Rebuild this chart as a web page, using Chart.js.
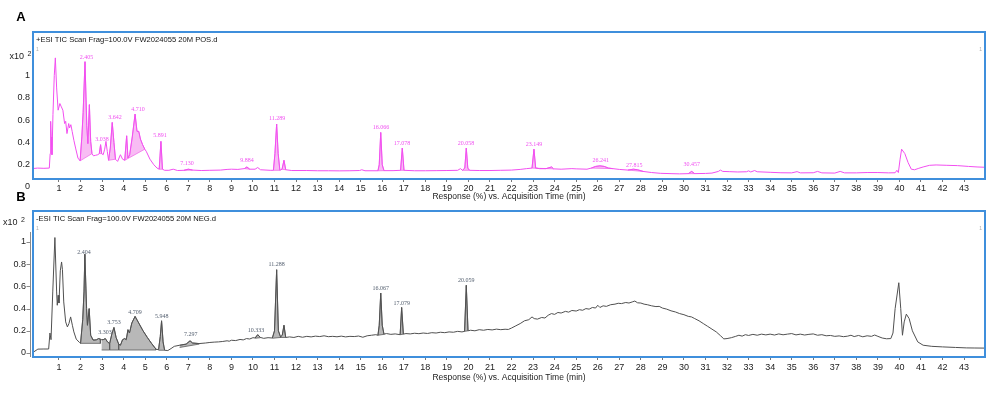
<!DOCTYPE html>
<html><head><meta charset="utf-8">
<script src="https://cdn.jsdelivr.net/npm/chart.js@4.4.1/dist/chart.umd.min.js"></script>
<style>
html,body{margin:0;padding:0;background:#fff;}
body{width:999px;height:395px;position:relative;overflow:hidden;}
canvas{position:absolute;left:0;}
#ca{top:0;}
#cb{top:188px;}
</style></head><body>
<canvas id="ca" width="999" height="205"></canvas>
<canvas id="cb" width="999" height="207"></canvas>
<script>
// ---------- DATA ----------
const xTickValues = [1,2,3,4,5,6,7,8,9,10,11,12,13,14,15,16,17,18,19,20,21,22,23,24,25,26,27,28,29,30,31,32,33,34,35,36,37,38,39,40,41,42,43];
const xTickLabels = ['1','2','3','4','5','6','7','8','9','10','11','12','13','14','15','16','17','18','19','20','21','22','23','24','25','26','27','28','29','30','31','32','33','34','35','36','37','38','39','40','41','42','43'];
const yTickValues = [0,0.2,0.4,0.6,0.8,1];
const yTickLabels = ['0','0.2','0.4','0.6','0.8','1'];

// Panel A: +ESI TIC (time min, response x10^2)
const posTrace = [[-0.25,0.165],[0.0,0.17],[0.3,0.168],[0.55,0.17],[0.59,0.3],[0.613,0.59],[0.64,0.45],[0.675,0.29],[0.72,0.65],[0.78,1.0],[0.83,1.16],[0.89,0.89],[0.96,0.69],[1.04,0.75],[1.11,0.72],[1.18,0.69],[1.26,0.57],[1.31,0.59],[1.37,0.48],[1.45,0.57],[1.49,0.53],[1.55,0.56],[1.61,0.5],[1.69,0.42],[1.77,0.35],[1.88,0.26],[1.98,0.235],[2.06,0.45],[2.12,0.67],[2.207,1.126],[2.29,0.55],[2.34,0.39],[2.41,0.74],[2.47,0.41],[2.53,0.30],[2.6,0.28],[2.7,0.285],[2.8,0.29],[2.87,0.3],[2.93,0.38],[2.98,0.3],[3.05,0.29],[3.12,0.34],[3.18,0.41],[3.24,0.32],[3.3,0.24],[3.38,0.35],[3.47,0.58],[3.55,0.4],[3.62,0.25],[3.72,0.23],[3.85,0.29],[3.95,0.25],[4.05,0.24],[4.14,0.46],[4.2,0.26],[4.28,0.29],[4.4,0.45],[4.53,0.655],[4.62,0.5],[4.7,0.5],[4.78,0.43],[4.88,0.38],[4.98,0.34],[5.05,0.32],[5.22,0.25],[5.4,0.2],[5.55,0.17],[5.65,0.16],[5.73,0.41],[5.8,0.16],[5.9,0.15],[6.1,0.15],[6.3,0.16],[6.5,0.148],[6.8,0.15],[7.0,0.16],[7.2,0.152],[7.6,0.148],[8.0,0.15],[8.5,0.152],[8.8,0.158],[9.0,0.16],[9.3,0.158],[9.6,0.165],[9.72,0.18],[9.85,0.16],[10.1,0.16],[10.22,0.175],[10.35,0.155],[10.8,0.15],[10.95,0.15],[11.02,0.3],[11.1,0.566],[11.17,0.3],[11.25,0.15],[11.35,0.16],[11.44,0.24],[11.52,0.155],[11.8,0.148],[12.5,0.148],[13.0,0.146],[13.5,0.146],[14.0,0.145],[14.5,0.146],[14.95,0.148],[15.05,0.155],[15.2,0.146],[15.8,0.146],[15.86,0.2],[15.93,0.49],[16.0,0.2],[16.08,0.147],[16.5,0.147],[16.85,0.15],[16.93,0.35],[17.01,0.15],[17.5,0.146],[18.0,0.146],[18.5,0.147],[19.0,0.148],[19.5,0.15],[19.63,0.165],[19.72,0.15],[19.83,0.17],[19.9,0.35],[19.97,0.17],[20.05,0.15],[20.5,0.148],[21.0,0.148],[21.5,0.15],[22.0,0.152],[22.4,0.158],[22.7,0.165],[22.95,0.17],[23.04,0.34],[23.12,0.17],[23.3,0.165],[23.6,0.165],[23.86,0.18],[23.95,0.163],[24.3,0.16],[24.8,0.165],[25.0,0.163],[25.5,0.16],[25.7,0.17],[25.9,0.185],[26.1,0.19],[26.3,0.185],[26.5,0.17],[26.7,0.165],[27.0,0.158],[27.4,0.152],[27.65,0.16],[27.85,0.155],[28.1,0.14],[28.5,0.13],[28.9,0.123],[29.4,0.12],[29.8,0.118],[30.2,0.12],[30.36,0.14],[30.5,0.12],[31.0,0.122],[31.3,0.125],[31.6,0.14],[31.69,0.152],[31.8,0.14],[32.1,0.138],[32.5,0.135],[32.9,0.137],[33.0,0.145],[33.1,0.135],[33.28,0.148],[33.4,0.137],[34.0,0.132],[34.5,0.128],[35.0,0.127],[35.25,0.138],[35.4,0.127],[36.0,0.128],[36.2,0.14],[36.4,0.127],[37.0,0.125],[37.25,0.14],[37.45,0.127],[38.0,0.127],[38.5,0.13],[39.0,0.13],[39.5,0.127],[39.8,0.128],[39.88,0.15],[39.95,0.13],[40.03,0.25],[40.1,0.34],[40.25,0.3],[40.4,0.22],[40.55,0.16],[40.7,0.155],[40.9,0.168],[41.1,0.18],[41.4,0.195],[41.7,0.198],[42.2,0.195],[42.7,0.192],[43.2,0.185],[43.6,0.18],[44.0,0.177]];
const posFillStart = [1.98,2.87,3.3,4.05,5.65,6.8,9.6,10.95,11.35,15.8,16.85,19.72,22.95,25.7,27.4,30.2];
const posFillEnd   = [2.53,2.98,3.62,4.98,5.8,7.2,9.85,11.25,11.52,16.08,17.01,20.05,23.95,26.7,28.1,30.5];
const posPeakText  = ['2.405','3.038','3.642','4.710','5.891','7.130','9.884','11.289','16.066','17.078','20.058','23.149','26.241','27.815','30.457'];
const posPeakTime  = [2.28,3.0,3.6,4.67,5.69,6.94,9.72,11.12,15.94,16.92,19.89,23.04,26.14,27.69,30.36];
const posPeakLevel = [1.163,0.431,0.629,0.70,0.467,0.216,0.236,0.62,0.539,0.395,0.395,0.386,0.236,0.191,0.207];

// Panel B: -ESI TIC
const negTrace = [[-0.25,0.0],[0.02,0.035],[0.3,0.036],[0.52,0.036],[0.58,0.18],[0.63,0.12],[0.71,0.55],[0.81,1.04],[0.89,0.55],[0.92,0.43],[0.96,0.52],[1.0,0.45],[1.06,0.74],[1.12,0.82],[1.16,0.75],[1.22,0.46],[1.31,0.28],[1.39,0.235],[1.46,0.265],[1.54,0.325],[1.62,0.25],[1.69,0.19],[1.8,0.125],[1.95,0.095],[2.0,0.087],[2.1,0.3],[2.16,0.55],[2.2,0.89],[2.28,0.40],[2.32,0.25],[2.4,0.40],[2.47,0.16],[2.58,0.117],[2.67,0.117],[2.75,0.12],[2.83,0.13],[2.92,0.125],[2.98,0.12],[3.05,0.12],[3.15,0.13],[3.25,0.1],[3.35,0.085],[3.45,0.17],[3.55,0.23],[3.65,0.14],[3.77,0.08],[3.85,0.07],[3.95,0.12],[4.05,0.13],[4.12,0.12],[4.2,0.21],[4.27,0.18],[4.38,0.27],[4.53,0.33],[4.7,0.27],[4.9,0.2],[5.1,0.14],[5.3,0.085],[5.5,0.035],[5.62,0.03],[5.7,0.15],[5.76,0.29],[5.83,0.1],[5.9,0.025],[6.05,0.022],[6.2,0.04],[6.35,0.06],[6.6,0.07],[6.9,0.08],[7.08,0.11],[7.2,0.09],[7.5,0.085],[7.8,0.09],[8.0,0.095],[8.2,0.098],[8.4,0.1],[8.6,0.104],[8.8,0.11],[8.9,0.106],[9.0,0.115],[9.2,0.112],[9.4,0.122],[9.55,0.118],[9.7,0.13],[9.85,0.126],[10.0,0.138],[10.1,0.135],[10.22,0.165],[10.35,0.14],[10.5,0.132],[10.7,0.138],[10.9,0.135],[11.0,0.2],[11.1,0.75],[11.18,0.2],[11.28,0.145],[11.36,0.16],[11.44,0.25],[11.52,0.14],[11.7,0.145],[11.9,0.14],[12.1,0.15],[12.3,0.142],[12.5,0.15],[12.7,0.145],[12.9,0.152],[13.1,0.148],[13.3,0.155],[13.5,0.147],[13.7,0.15],[13.9,0.146],[14.1,0.152],[14.3,0.145],[14.5,0.15],[14.7,0.148],[14.9,0.153],[15.1,0.142],[15.3,0.155],[15.5,0.16],[15.7,0.165],[15.8,0.16],[15.86,0.25],[15.93,0.54],[16.0,0.25],[16.08,0.17],[16.2,0.175],[16.4,0.168],[16.6,0.172],[16.83,0.165],[16.9,0.41],[16.98,0.17],[17.1,0.175],[17.3,0.172],[17.5,0.178],[17.7,0.174],[17.9,0.18],[18.1,0.176],[18.3,0.183],[18.5,0.18],[18.7,0.187],[18.9,0.183],[19.1,0.19],[19.3,0.187],[19.5,0.195],[19.7,0.19],[19.82,0.195],[19.9,0.61],[19.98,0.2],[20.1,0.205],[20.3,0.2],[20.5,0.21],[20.7,0.205],[20.9,0.212],[21.1,0.208],[21.3,0.215],[21.5,0.21],[21.7,0.214],[21.85,0.212],[22.0,0.225],[22.2,0.245],[22.4,0.265],[22.6,0.29],[22.8,0.3],[22.95,0.325],[23.05,0.31],[23.2,0.305],[23.4,0.32],[23.55,0.315],[23.7,0.34],[23.85,0.355],[24.0,0.348],[24.15,0.365],[24.3,0.36],[24.5,0.375],[24.65,0.368],[24.8,0.383],[25.0,0.378],[25.15,0.39],[25.3,0.385],[25.45,0.4],[25.6,0.395],[25.75,0.41],[25.9,0.405],[26.0,0.43],[26.1,0.41],[26.25,0.425],[26.4,0.42],[26.6,0.435],[26.8,0.44],[26.95,0.448],[27.1,0.445],[27.3,0.455],[27.45,0.45],[27.6,0.46],[27.72,0.468],[27.85,0.452],[28.0,0.45],[28.15,0.44],[28.3,0.435],[28.5,0.425],[28.7,0.418],[28.85,0.42],[29.0,0.405],[29.2,0.395],[29.4,0.38],[29.6,0.37],[29.8,0.355],[30.0,0.345],[30.2,0.33],[30.35,0.325],[30.5,0.31],[30.7,0.29],[30.9,0.265],[31.1,0.24],[31.3,0.215],[31.5,0.19],[31.7,0.155],[31.85,0.127],[32.0,0.13],[32.2,0.138],[32.4,0.15],[32.55,0.16],[32.7,0.152],[32.85,0.165],[33.0,0.158],[33.2,0.168],[33.4,0.16],[33.6,0.17],[33.8,0.163],[34.0,0.17],[34.2,0.162],[34.4,0.172],[34.6,0.164],[34.8,0.17],[35.0,0.175],[35.2,0.163],[35.4,0.17],[35.6,0.162],[35.8,0.168],[36.0,0.172],[36.2,0.16],[36.4,0.165],[36.6,0.155],[36.8,0.158],[37.0,0.15],[37.2,0.154],[37.4,0.147],[37.6,0.152],[37.75,0.16],[37.9,0.148],[38.1,0.158],[38.3,0.146],[38.5,0.155],[38.7,0.15],[38.85,0.162],[39.0,0.15],[39.2,0.135],[39.4,0.128],[39.6,0.13],[39.7,0.18],[39.8,0.4],[39.97,0.633],[40.06,0.4],[40.14,0.16],[40.22,0.28],[40.32,0.35],[40.45,0.31],[40.6,0.2],[40.85,0.1],[41.1,0.07],[41.5,0.06],[42.0,0.055],[42.6,0.05],[43.1,0.046],[43.5,0.045],[44.0,0.044]];
const negFillStart = [2.0,2.98,3.35,3.77,5.62,6.6,10.1,10.9,11.28,15.8,16.83,19.82];
const negFillEnd   = [2.92,3.35,3.77,5.5,5.9,7.5,10.35,11.28,11.52,16.08,16.98,19.98];
const negFillBase0 = [0.087,0.027,0.027,0.027,0.025,0.05,0.133,0.133,0.14,0.16,0.165,0.195];
const negFillBase1 = [0.087,0.027,0.027,0.027,0.025,0.08,0.138,0.14,0.14,0.168,0.17,0.2];
const negPeakText  = ['2.404','3.303','3.753','4.709','5.948','7.297','10.333','11.288','16.067','17.079','20.059'];
const negPeakTime  = [2.16,3.13,3.55,4.53,5.77,7.11,10.14,11.10,15.93,16.90,19.90];
const negPeakLevel = [0.91,0.183,0.273,0.367,0.333,0.168,0.20,0.80,0.583,0.448,0.658];

// ---------- HELPERS ----------
const FONT = '"Liberation Sans", Arial, sans-serif';
const toXY = arr => arr.map(p => ({x: p[0], y: p[1]}));
const valAt = (arr, t) => { const p = arr.find(q => Math.abs(q[0]-t) < 1e-6); return p ? p[1] : 0; };
function shape(arr, t0, t1, b0, b1) {
  const pts = arr.filter(p => p[0] >= t0-1e-6 && p[0] <= t1+1e-6).map(p => ({x:p[0], y:p[1]}));
  pts.push({x:t1, y:b1});
  pts.push({x:t0, y:b0});
  return pts;
}

const decor = {
  id: 'decor',
  afterDraw(chart, args, o) {
    const {ctx, chartArea: ca, scales: {x, y}} = chart;
    ctx.save();
    // peak labels
    ctx.font = '6px "Liberation Serif", serif';
    ctx.fillStyle = o.labelColor;
    ctx.textAlign = 'center'; ctx.textBaseline = 'middle';
    o.labels.forEach((t, i) => ctx.fillText(t, x.getPixelForValue(o.labelT[i]), y.getPixelForValue(o.labelV[i])));
    // y axis line (panel B style)
    if (o.axisLine) {
      ctx.strokeStyle = '#8a8a8a'; ctx.lineWidth = 1;
      ctx.beginPath();
      ctx.moveTo(30.5, y.getPixelForValue(1.09)); ctx.lineTo(30.5, ca.bottom);
      yTickValues.forEach(v => { const py = Math.round(y.getPixelForValue(v)) + 0.5; ctx.moveTo(26.5, py); ctx.lineTo(30.5, py); });
      ctx.stroke();
    }
    // frame
    ctx.strokeStyle = '#3f8fdc'; ctx.lineWidth = 2;
    ctx.strokeRect(ca.left, ca.top, ca.right - ca.left, ca.bottom - ca.top);
    // title inside frame
    ctx.textAlign = 'left'; ctx.textBaseline = 'middle';
    ctx.font = '7.6px ' + FONT; ctx.fillStyle = '#111';
    ctx.fillText(o.title, ca.left + 3, ca.top + 7.5);
    // small markers
    ctx.font = '5px ' + FONT; ctx.fillStyle = '#aaa';
    ctx.fillText('1', ca.left + 3, ca.top + 18);
    ctx.textAlign = 'right';
    ctx.fillText('1', ca.right - 3, ca.top + 18);
    // x10^2
    ctx.font = '9px ' + FONT; ctx.fillStyle = '#222'; ctx.textAlign = 'right';
    ctx.fillText('x10', o.expX, o.expY);
    ctx.font = '7px ' + FONT; ctx.textAlign = 'left';
    ctx.fillText('2', o.expX + 3.5, o.expY - 3);
    // panel letter
    ctx.font = 'bold 13px ' + FONT; ctx.fillStyle = '#000'; ctx.textAlign = 'center';
    ctx.fillText(o.letter, o.letterX, o.letterY);
    ctx.restore();
  }
};

function makeChart(el, cfg) {
  const datasets = [{
    data: toXY(cfg.trace), borderColor: cfg.lineColor, borderWidth: 1, pointRadius: 0,
    tension: 0, fill: false, order: 0
  }];
  cfg.fills.forEach(f => datasets.push({
    data: f, borderColor: cfg.fillLine, borderWidth: 0.8, backgroundColor: cfg.fillColor,
    fill: 'shape', pointRadius: 0, tension: 0, order: 1
  }));
  return new Chart(el, {
    type: 'line',
    data: {datasets},
    plugins: [decor],
    options: {
      responsive: false, animation: false, events: [],
      layout: {padding: {top: cfg.padTop, right: 14, left: 0, bottom: 0}},
      plugins: {
        legend: {display: false}, tooltip: {enabled: false},
        decor: cfg.decor
      },
      scales: {
        x: {
          type: 'linear', min: -0.2065, max: 43.97, bounds: 'data',
          afterBuildTicks: s => { s.ticks = xTickValues.map(v => ({value: v})); },
          afterFit: s => { s.height = cfg.xHeight; },
          ticks: {autoSkip: false, maxRotation: 0, padding: cfg.xPad, color: '#222',
            font: {family: FONT, size: 9}, callback: (v, i) => xTickLabels[i]},
          grid: {display: true, drawOnChartArea: false, drawTicks: true, tickLength: 3, color: '#777'},
          border: {display: false},
          title: {display: true, text: 'Response (%) vs. Acquisition Time (min)', color: '#222',
            font: {family: FONT, size: 8.5}, padding: {top: 0, bottom: cfg.titlePad}}
        },
        y: {
          type: 'linear', min: cfg.yMin, max: cfg.yMax, bounds: 'data',
          afterBuildTicks: s => { s.ticks = yTickValues.map(v => ({value: v})); },
          afterFit: s => { s.width = 33; },
          ticks: {autoSkip: false, padding: cfg.yPad, color: '#222',
            font: {family: FONT, size: 9}, callback: (v, i) => yTickLabels[i]},
          grid: {display: false, drawTicks: false},
          border: {display: false}
        }
      }
    }
  });
}

makeChart(document.getElementById('ca'), {
  trace: posTrace, lineColor: '#f24ef0', fillLine: '#f070ea', fillColor: 'rgba(247,176,242,0.85)',
  fills: posFillStart.map((s, k) => shape(posTrace, s, posFillEnd[k], valAt(posTrace, s), valAt(posTrace, posFillEnd[k]))),
  padTop: 32, xHeight: 26, xPad: 1, titlePad: 3, yPad: 3,
  yMin: 0.0719, yMax: 1.3926,
  decor: {title: '+ESI TIC Scan Frag=100.0V FW2024055 20M POS.d', labels: posPeakText, labelT: posPeakTime,
    labelV: posPeakLevel, labelColor: '#f050f0', axisLine: false, expX: 24, expY: 57, letter: 'A', letterX: 21, letterY: 17}
});

makeChart(document.getElementById('cb'), {
  trace: negTrace, lineColor: '#505050', fillLine: '#5a5a5a', fillColor: 'rgba(176,176,176,0.9)',
  fills: negFillStart.map((s, k) => shape(negTrace, s, negFillEnd[k], negFillBase0[k], negFillBase1[k])),
  padTop: 23, xHeight: 38, xPad: 2, titlePad: 12, yPad: 7,
  yMin: -0.036, yMax: 1.279,
  decor: {title: '-ESI TIC Scan Frag=100.0V FW2024055 20M NEG.d', labels: negPeakText, labelT: negPeakTime,
    labelV: negPeakLevel, labelColor: '#556070', axisLine: true, expX: 17.5, expY: 35, letter: 'B', letterX: 21, letterY: 9}
});
</script>
</body></html>
